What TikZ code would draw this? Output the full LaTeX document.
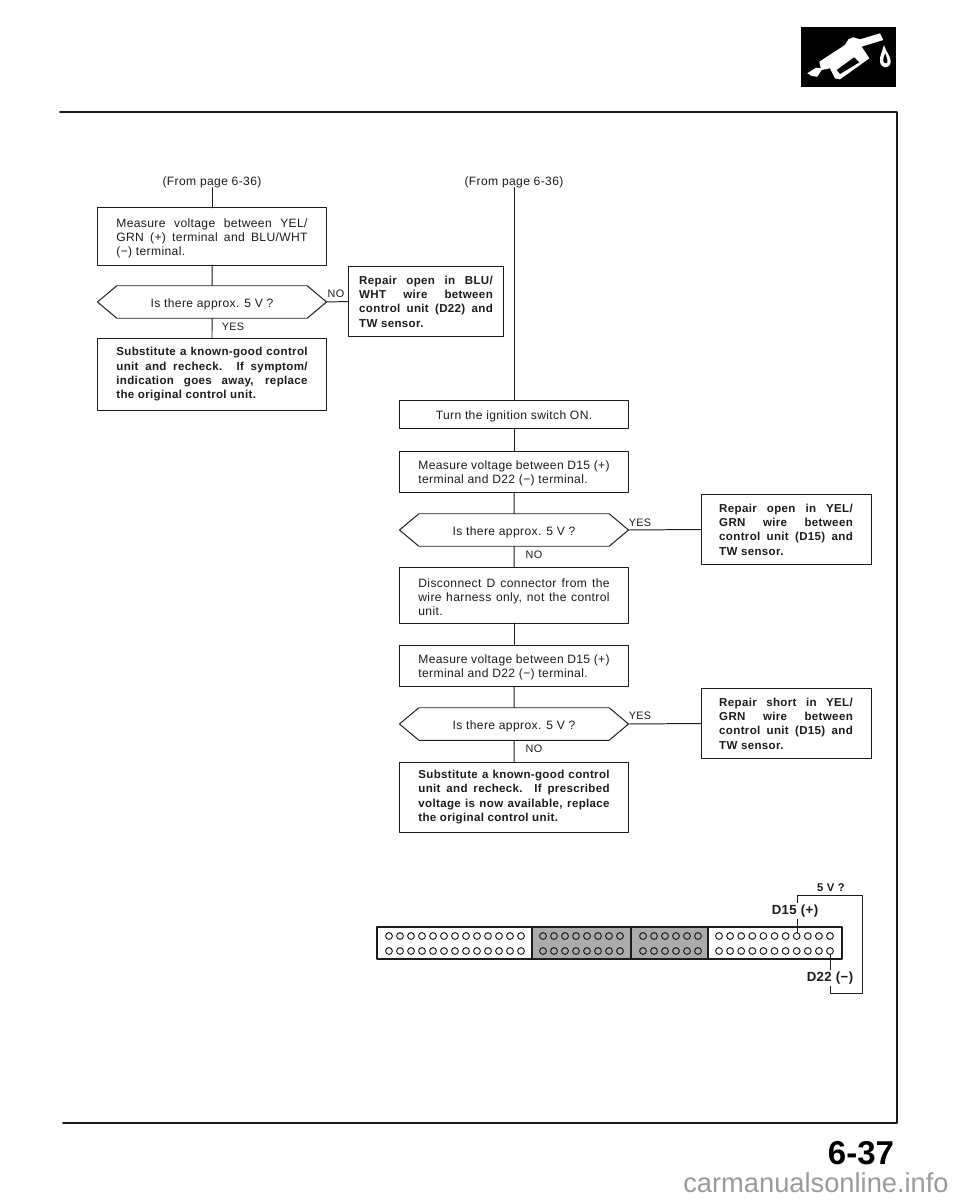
\documentclass[tikz,border=0pt]{standalone}
\usepackage{fontspec}
\setmainfont{Liberation Sans}[LetterSpace=3]
\newfontfamily\plainfont{Liberation Sans}
\usetikzlibrary{shapes.symbols}
\definecolor{ManualInk}{HTML}{1C1C1C}
\definecolor{ManualShade}{HTML}{ABABAB}
\definecolor{ManualMark}{HTML}{9A9A9A}
\newcommand{\lineW}[1]{\makebox[136pt][s]{#1}}
\newcommand{\lineN}[1]{\makebox[95pt][s]{#1}}
\newcommand{\topgap}{\rule{0pt}{9.1pt}}

\begin{document}
\begin{tikzpicture}[x=0.025cm,y=-0.025cm,line cap=round,line join=round,
    every node/.style={font=\fontsize{8.6}{10.2}\selectfont,text=ManualInk,inner sep=0pt,outer sep=0pt},
    wire/.style={draw=ManualInk,line width=0.7pt},
    framerule/.style={draw=ManualInk,line width=1.1pt},
    lowered/.style={execute at begin node={\rule{0pt}{9pt}}},
    stepbox/.style={wire,lowered,rectangle,align=left,minimum width=229*0.7113pt,minimum height=#1*0.7113pt},
    boldbox/.style={stepbox=#1,font=\fontsize{8.2}{10.2}\selectfont\bfseries},
    repairbox/.style={wire,lowered,rectangle,align=left,font=\fontsize{8.2}{10.2}\selectfont\bfseries,minimum width=#1*0.7113pt,minimum height=69.5*0.7113pt},
    askbox/.style={wire,lowered,signal,signal to=east and west,signal pointer angle=80,minimum width=229*0.7113pt,minimum height=32.5*0.7113pt},
    tag/.style={font=\fontsize{7.7}{10}\selectfont},
    pinlabel/.style={fill=white,inner sep=1pt,font=\fontsize{9.4}{11}\selectfont\bfseries}]
  \useasboundingbox (0,0) rectangle (960,1200);

  \fill[black] (801,27) rectangle (896,87);
  \begin{scope}[shift={(780,0)},x=0.025cm/3,y=-0.025cm/3]
    \fill[white] (82,220) -- (108,203) -- (122,205) -- (118,185) -- (195,135) -- (205,118) -- (220,112) -- (240,118) -- (300,100) -- (310,120) -- (245,140) -- (268,175) -- (180,238) -- (165,235) -- (150,205) -- (125,210) -- (112,230) -- (95,228) -- cycle;
    \fill[black] (170,210) -- (222,172) -- (238,187) -- (180,222) -- cycle;
    \fill[white] (312,135) .. controls (305,160) and (298,170) .. (300,185) .. controls (303,208) and (330,208) .. (332,185) .. controls (333,170) and (320,160) .. (312,135);
    \fill[black] (316,160) .. controls (310,172) and (308,182) .. (312,188) .. controls (316,194) and (324,190) .. (322,180) -- cycle;
  \end{scope}

  \draw[framerule] (60,112) -- (897,112) -- (897,1123) -- (63,1123);

  \node (fromleft) at (212,182) {(From page 6-36)};
  \node (fromright) at (514,182) {(From page 6-36)};

  \node[stepbox=57] (measyg) at (212,236.5) {\topgap\lineW{Measure voltage between YEL/}\\\lineW{GRN (+) terminal and BLU/WHT}\\(−) terminal.};
  \node[askbox] (askleft) at (212,302) {Is there approx. 5 V ?};
  \node[boldbox=71] (subleft) at (212,374.5) {\lineW{Substitute a known-good control}\\\lineW{unit and recheck. If symptom/}\\\lineW{indication goes away, replace}\\the original control unit.};
  \node[repairbox=154] (repblu) at (426,301.5) {\lineN{Repair open in BLU/}\\\lineN{WHT wire between}\\\lineN{control unit (D22) and}\\TW sensor.};

  \node[stepbox=28] (turnon) at (514,414) {Turn the ignition switch ON.};
  \node[stepbox=41] (measfirst) at (514,471.5) {\topgap\lineW{Measure voltage between D15 (+)}\\terminal and D22 (−) terminal.};
  \node[askbox] (askfirst) at (514,530) {Is there approx. 5 V ?};
  \node[stepbox=56] (disconnect) at (514,595) {\topgap\lineW{Disconnect D connector from the}\\\lineW{wire harness only, not the control}\\unit.};
  \node[stepbox=41] (meassecond) at (514,665.5) {\topgap\lineW{Measure voltage between D15 (+)}\\terminal and D22 (−) terminal.};
  \node[askbox] (asksecond) at (514,724) {Is there approx. 5 V ?};
  \node[boldbox=70] (subright) at (514,797) {\lineW{Substitute a known-good control}\\\lineW{unit and recheck. If prescribed}\\\lineW{voltage is now available, replace}\\the original control unit.};
  \node[repairbox=170] (repopen) at (786,529.5) {\lineN{Repair open in YEL/}\\\lineN{GRN wire between}\\\lineN{control unit (D15) and}\\TW sensor.};
  \node[repairbox=170] (repshort) at (786,723.5) {\lineN{Repair short in YEL/}\\\lineN{GRN wire between}\\\lineN{control unit (D15) and}\\TW sensor.};

  \node[tag] (noleft) at (336,294) {NO};
  \node[tag] (yesleft) at (233,327) {YES};
  \node[tag] (yesfirst) at (640,523) {YES};
  \node[tag] (nofirst) at (534,555) {NO};
  \node[tag] (yessecond) at (640,716) {YES};
  \node[tag] (nosecond) at (534,749) {NO};

  \draw[wire] (fromleft) -- (measyg);
  \draw[wire] (measyg) -- (askleft);
  \draw[wire] (askleft) -- (subleft);
  \draw[wire] (askleft.east) -- (repblu.west);
  \draw[wire] (fromright) -- (turnon);
  \draw[wire] (turnon) -- (measfirst);
  \draw[wire] (measfirst) -- (askfirst);
  \draw[wire] (askfirst) -- (disconnect);
  \draw[wire] (askfirst.east) -- (repopen.west);
  \draw[wire] (disconnect) -- (meassecond);
  \draw[wire] (meassecond) -- (asksecond);
  \draw[wire] (asksecond) -- (subright);
  \draw[wire] (asksecond.east) -- (repshort.west);

  \fill[ManualShade] (532,927) rectangle (708,959);
  \draw[framerule] (377,927) rectangle (842,959);
  \draw[framerule] (532,927) -- (532,959);
  \draw[framerule] (631,927) -- (631,959);
  \draw[framerule] (708,927) -- (708,959);
  \foreach \rowy in {936,951} {
    \foreach \pin in {0,...,12} \draw[wire] (389+\pin*11,\rowy) circle (3.4);
    \foreach \pin in {0,...,7} \draw[wire] (543+\pin*11,\rowy) circle (3.4);
    \foreach \pin in {0,...,5} \draw[wire] (643+\pin*11,\rowy) circle (3.4);
    \foreach \pin in {0,...,10} \draw[wire] (719+\pin*11.1,\rowy) circle (3.4);
  }
  \coordinate (pinplus) at (797,933);
  \coordinate (pinminus) at (830,954);
  \draw[wire] (pinplus) -- (797,895) -- (862,895) -- (862,993) -- (830,993) -- (pinminus);
  \node[pinlabel] (labplus) at (795,911) {D15 (+)};
  \node[pinlabel] (labminus) at (830,978) {D22 (−)};
  \node[font=\fontsize{8}{10}\selectfont\bfseries] (labvolt) at (831,888) {5 V ?};

  \node[font=\plainfont\fontsize{23.5}{26}\selectfont\bfseries,text=black] (pagenum) at (861,1153) {6-37};
  \node[font=\plainfont\fontsize{19.4}{22}\selectfont,text=ManualMark] (sitemark) at (816,1183) {carmanualsonline.info};
\end{tikzpicture}
\end{document}
